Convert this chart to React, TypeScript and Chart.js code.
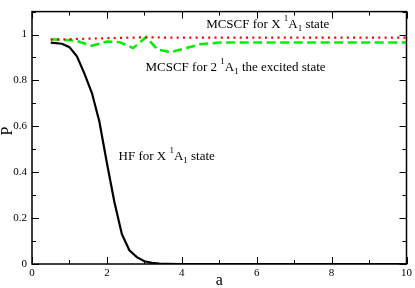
import React, { useEffect, useRef } from "react";
import { Chart, registerables } from "chart.js";

Chart.register(...registerables);

const hfX = [0.5, 0.8, 1.0, 1.2, 1.4, 1.6, 1.8, 2.0, 2.2, 2.4, 2.6, 2.8, 3.0, 3.2, 3.4, 3.6, 4, 4.5, 5, 6, 7, 8, 9, 10];
const hfY = [0.965, 0.96, 0.945, 0.905, 0.83, 0.745, 0.62, 0.44, 0.27, 0.13, 0.06, 0.03, 0.012, 0.005, 0.002, 0.001, 0, 0, 0, 0, 0, 0, 0, 0];

const mcX = [0.5, 1, 1.5, 2, 2.5, 3, 3.5, 4, 5, 6, 7, 8, 9, 10];
const mcY = [0.978, 0.98, 0.982, 0.984, 0.986, 0.988, 0.987, 0.987, 0.987, 0.987, 0.987, 0.987, 0.987, 0.987];

const exX = [0.5, 1.0, 1.2, 1.6, 2.0, 2.35, 2.7, 3.05, 3.35, 3.7, 4.5, 5, 6, 7, 8, 9, 10];
const exY = [0.979, 0.975, 0.972, 0.951, 0.97, 0.966, 0.941, 0.989, 0.935, 0.923, 0.958, 0.965, 0.965, 0.965, 0.965, 0.965, 0.965];

const xTicks = [0, 2, 4, 6, 8, 10];
const xMinor = [1, 3, 5, 7, 9];
const yTicks = [0, 0.2, 0.4, 0.6, 0.8, 1];
const yMinor = [0.1, 0.3, 0.5, 0.7, 0.9, 1.1];

type Part = { t: string; s: number };
const labels: { x: number; y: number; parts: Part[] }[] = [
  {
    x: 4.65, y: 1.029,
    parts: [{ t: "MCSCF for X ", s: 0 }, { t: "1", s: 1 }, { t: "A", s: 0 }, { t: "1", s: -1 }, { t: " state", s: 0 }],
  },
  {
    x: 3.03, y: 0.841,
    parts: [{ t: "MCSCF for 2 ", s: 0 }, { t: "1", s: 1 }, { t: "A", s: 0 }, { t: "1", s: -1 }, { t: " the excited state", s: 0 }],
  },
  {
    x: 2.31, y: 0.452,
    parts: [{ t: "HF for X ", s: 0 }, { t: "1", s: 1 }, { t: "A", s: 0 }, { t: "1", s: -1 }, { t: " state", s: 0 }],
  },
];

const FONT = "'Liberation Serif', serif";

const zip = (xs: number[], ys: number[]) => xs.map((x, i) => ({ x, y: ys[i] }));

const framePlugin = {
  id: "frame",
  afterDraw(chart: any) {
    const ctx = chart.ctx;
    const { left, right, top, bottom } = chart.chartArea;
    const xs = chart.scales.x;
    const ys = chart.scales.y;
    ctx.save();
    ctx.strokeStyle = "#000";
    ctx.lineWidth = 1.5;
    ctx.strokeRect(left, top, right - left, bottom - top);
    ctx.lineWidth = 1;
    const tick = (x1: number, y1: number, x2: number, y2: number) => {
      ctx.beginPath();
      ctx.moveTo(x1, y1);
      ctx.lineTo(x2, y2);
      ctx.stroke();
    };
    xTicks.forEach((v) => {
      const p = Math.round(xs.getPixelForValue(v)) + 0.5;
      tick(p, bottom, p, bottom - 7);
      tick(p, top, p, top + 7);
    });
    xMinor.forEach((v) => {
      const p = Math.round(xs.getPixelForValue(v)) + 0.5;
      tick(p, bottom, p, bottom - 4);
      tick(p, top, p, top + 4);
    });
    yTicks.forEach((v) => {
      const p = Math.round(ys.getPixelForValue(v)) + 0.5;
      tick(left, p, left + 7, p);
      tick(right, p, right - 7, p);
    });
    yMinor.forEach((v) => {
      const p = Math.round(ys.getPixelForValue(v)) + 0.5;
      tick(left, p, left + 4, p);
      tick(right, p, right - 4, p);
    });

    ctx.fillStyle = "#000";
    ctx.textBaseline = "alphabetic";
    ctx.textAlign = "left";
    labels.forEach((lab) => {
      let x = xs.getPixelForValue(lab.x);
      const y = ys.getPixelForValue(lab.y);
      lab.parts.forEach((p) => {
        if (p.s === 0) {
          ctx.font = `13px ${FONT}`;
          ctx.fillText(p.t, x, y);
        } else {
          ctx.font = `9px ${FONT}`;
          ctx.fillText(p.t, x, p.s > 0 ? y - 7 : y + 3);
        }
        x += ctx.measureText(p.t).width;
      });
    });

    ctx.font = `16px ${FONT}`;
    ctx.textAlign = "center";
    ctx.textBaseline = "middle";
    ctx.fillText("a", (left + right) / 2, 281);
    ctx.save();
    ctx.translate(8, 131);
    ctx.rotate(-Math.PI / 2);
    ctx.fillText("P", 0, 0);
    ctx.restore();
    ctx.restore();
  },
};

export default function App() {
  const ref = useRef<HTMLCanvasElement | null>(null);
  useEffect(() => {
    if (!ref.current) return;
    Chart.defaults.font.family = FONT;
    const chart = new Chart(ref.current, {
      type: "line",
      data: {
        datasets: [
          {
            data: zip(mcX, mcY),
            borderColor: "#ff0000",
            borderWidth: 2.2,
            borderDash: [2, 4.3],
            pointRadius: 0,
            fill: false,
            tension: 0,
          },
          {
            data: zip(exX, exY),
            borderColor: "#00ee00",
            borderWidth: 2.5,
            borderDash: [9, 4.5],
            pointRadius: 0,
            fill: false,
            tension: 0,
          },
          {
            data: zip(hfX, hfY),
            borderColor: "#000000",
            borderWidth: 2.2,
            pointRadius: 0,
            fill: false,
            tension: 0,
          },
        ],
      },
      options: {
        animation: false,
        responsive: false,
        events: [],
        layout: { padding: { top: 1, right: 7, left: 0, bottom: 0 } },
        plugins: { legend: { display: false }, tooltip: { enabled: false } },
        scales: {
          x: {
            type: "linear",
            min: 0,
            max: 10,
            grid: { display: false, drawTicks: false },
            border: { display: false },
            afterBuildTicks: (s: any) => {
              s.ticks = xTicks.map((v) => ({ value: v }));
            },
            afterFit: (s: any) => {
              s.height = 24;
            },
            ticks: {
              padding: 3,
              color: "#000",
              font: { size: 11, family: FONT },
              maxRotation: 0,
              autoSkip: false,
              callback: (v: any) => String(v),
            },
          },
          y: {
            type: "linear",
            min: 0,
            max: 1.1,
            grid: { display: false, drawTicks: false },
            border: { display: false },
            afterBuildTicks: (s: any) => {
              s.ticks = yTicks.map((v) => ({ value: v }));
            },
            afterFit: (s: any) => {
              s.width = 32;
            },
            ticks: {
              padding: 5,
              color: "#000",
              font: { size: 11, family: FONT },
              autoSkip: false,
              callback: (v: any) => String(+Number(v).toFixed(1)),
            },
          },
        },
      },
      plugins: [framePlugin],
    });
    return () => chart.destroy();
  }, []);
  return (
    <div style={{ position: "fixed", left: 0, top: 0, width: 415, height: 288, background: "#fff" }}>
      <canvas ref={ref} width={415} height={288} style={{ width: 415, height: 288, display: "block" }} />
    </div>
  );
}
